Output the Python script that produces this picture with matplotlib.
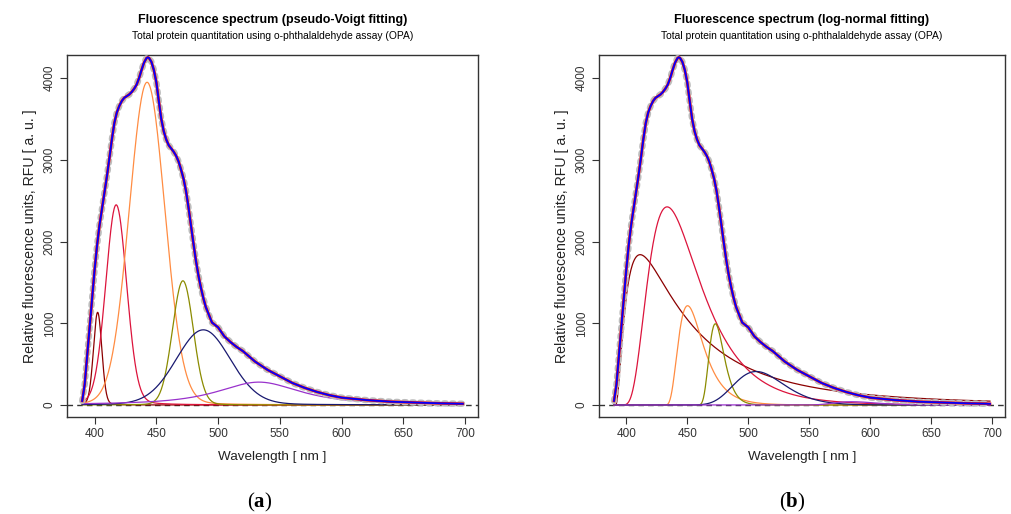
import numpy as np
import matplotlib.pyplot as plt

plt.rcParams['font.family'] = ['Liberation Sans', 'DejaVu Sans']
plt.rcParams['mathtext.fontset'] = 'custom'
plt.rcParams['mathtext.rm'] = 'Liberation Serif'
plt.rcParams['mathtext.bf'] = 'Liberation Serif:bold'

wavelength = [390, 392, 394, 396, 398, 400, 402, 404, 406, 408, 410, 412, 414, 416, 418,
              420, 422, 424, 426, 428, 430, 432, 434, 436, 438, 440, 442, 443, 444, 446,
              448, 450, 452, 454, 456, 458, 460, 462, 464, 466, 468, 470, 472, 474, 476,
              478, 480, 482, 484, 486, 488, 490, 495, 500, 505, 510, 515, 520, 530, 540,
              550, 560, 570, 580, 590, 600, 620, 640, 660, 680, 698]
rfu = [50, 250, 600, 950, 1300, 1650, 1950, 2200, 2400, 2600, 2800, 3020, 3250, 3450, 3580,
       3660, 3720, 3760, 3780, 3800, 3830, 3870, 3920, 4000, 4100, 4190, 4245, 4255, 4250, 4200,
       4100, 3950, 3720, 3500, 3350, 3250, 3180, 3140, 3100, 3050, 2980, 2880, 2770, 2620, 2420,
       2200, 1980, 1770, 1590, 1440, 1310, 1200, 1010, 950, 840, 770, 710, 660, 530, 430,
       350, 270, 210, 160, 120, 90, 60, 40, 30, 20, 15]
# fitted total (red) sits on top of the measured curve
fit_rfu = rfu

# pseudo-Voigt components: centre, height, fwhm, lorentz fraction
pv_colors = ['#8B0000', '#DC143C', '#FF8C42', '#8B8B00', '#191970', '#9932CC']
pv_center = [402.5, 417.5, 442.5, 471.5, 488.0, 533.0]
pv_height = [1135, 2450, 3950, 1520, 920, 280]
pv_fwhm = [8.0, 20.0, 34.0, 20.0, 52.0, 80.0]
pv_eta = [0.1, 0.1, 0.05, 0.05, 0.1, 0.8]

# log-normal components: centre, height, width, asymmetry
ln_colors = ['#8B0000', '#DC143C', '#FF8C42', '#8B8B00', '#191970', '#9932CC']
ln_center = [411.4, 433.5, 450.3, 473.0, 506.5, 585.0]
ln_height = [1840, 2425, 1215, 994, 410, 40]
ln_width = [48.1, 49.7, 23.5, 14.4, 48.0, 40.0]
ln_asym = [1.18, 0.6136, 0.552, 0.368, 0.25, 0.3]

xs = np.linspace(390, 698, 800)


def pseudo_voigt(x, c, a, w, eta):
    d = 4 * (x - c) ** 2 / w ** 2
    return a * (eta / (1 + d) + (1 - eta) * np.exp(-np.log(2) * d))


def log_normal(x, c, a, w, b):
    arg = 1 + 2 * b * (x - c) / w
    out = np.zeros_like(x)
    ok = arg > 0
    out[ok] = a * np.exp(-np.log(2) * (np.log(arg[ok]) / b) ** 2)
    return out


fig = plt.figure(figsize=(10.11, 5.14), dpi=100)
W, H = 1011, 514


def panel(x0, x1, title, comps, colors, letter, cap_x):
    ax = fig.add_axes([x0 / W, (H - 417) / H, (x1 - x0) / W, (417 - 55) / H])
    ax.axhline(0, color='#333333', lw=1, ls=(0, (4, 3)), zorder=1)
    for comp, col in zip(comps, colors):
        ax.plot(xs, comp, color=col, lw=0.9, zorder=2)
    ax.plot(wavelength, rfu, color='#bdbdbd', lw=4.6, ls=(0, (0.35, 0.9)),
            dash_capstyle='round', zorder=3)
    ax.plot(wavelength, fit_rfu, color='#FF0000', lw=1.9, zorder=4)
    ax.plot(wavelength, rfu, color='#0000FF', lw=1.3, zorder=5)
    ax.set_xlim(377.7, 710.3)
    ax.set_ylim(-147, 4284)
    ax.set_xticks([400, 450, 500, 550, 600, 650, 700])
    ax.set_yticks([0, 1000, 2000, 3000, 4000])
    ax.set_yticklabels(['0', '1000', '2000', '3000', '4000'], rotation=90, va='center')
    ax.tick_params(direction='out', length=5, width=0.8, labelsize=8.5,
                   colors='#333333', pad=3)
    for s in ax.spines.values():
        s.set_linewidth(1.0)
        s.set_color('#333333')
    ax.set_xlabel('Wavelength [ nm ]', fontsize=9.7, color='#222222', labelpad=8)
    ax.set_ylabel('Relative fluorescence units, RFU [ a. u. ]', fontsize=10.2,
                  color='#222222', labelpad=5)
    xc = (x0 + x1) / 2 / W
    fig.text(xc, 1 - 20 / H, title, ha='center', va='center', fontsize=9.0,
             fontweight='bold')
    fig.text(xc, 1 - 36 / H, 'Total protein quantitation using o-phthalaldehyde assay (OPA)',
             ha='center', va='center', fontsize=7.4)
    fig.text(cap_x / W, 1 - 502 / H, r'$\mathrm{(}\mathbf{' + letter + r'}\mathrm{)}$',
             ha='center', va='center', fontsize=15)
    return ax


pv = [pseudo_voigt(xs, c, a, w, e) for c, a, w, e in zip(pv_center, pv_height, pv_fwhm, pv_eta)]
lg = [log_normal(xs, c, a, w, b) for c, a, w, b in zip(ln_center, ln_height, ln_width, ln_asym)]

panel(67, 478, 'Fluorescence spectrum (pseudo-Voigt fitting)', pv, pv_colors, 'a', 260)
panel(599, 1005, 'Fluorescence spectrum (log-normal fitting)', lg, ln_colors, 'b', 792)

fig.savefig('out.png', dpi=100)
